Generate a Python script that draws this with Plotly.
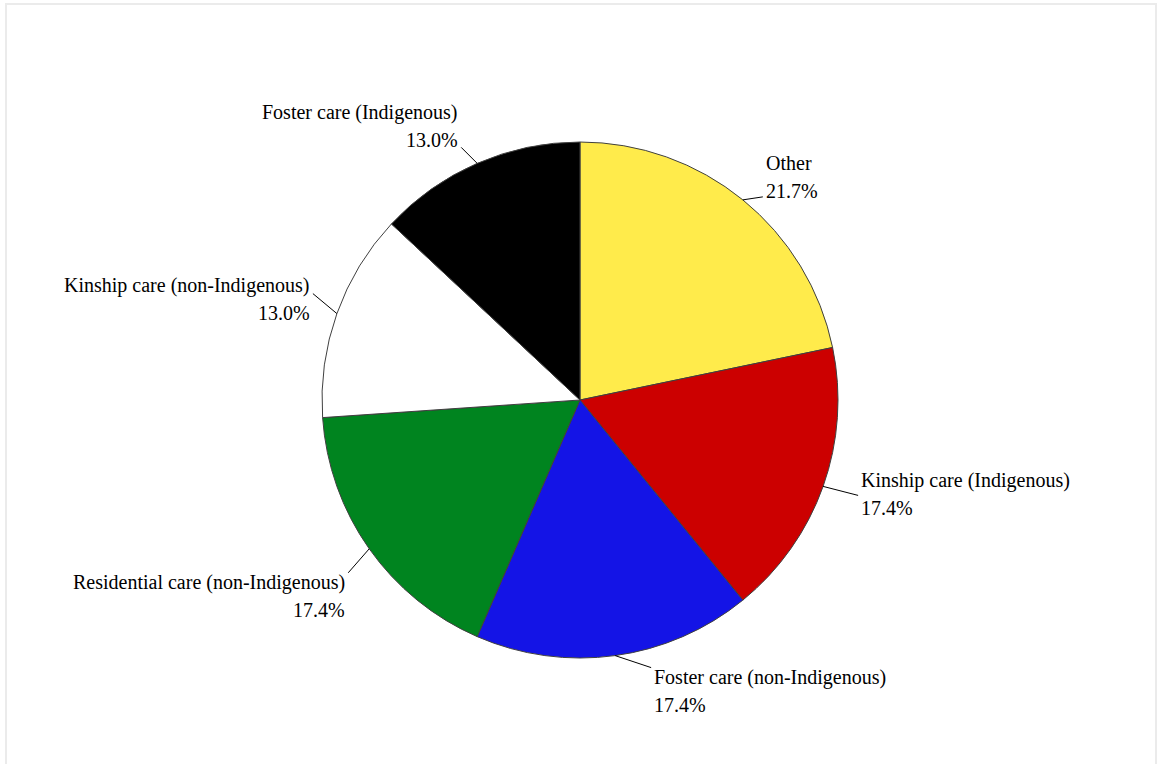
import math
import plotly.graph_objects as go

categories = ["Other", "Kinship care (Indigenous)", "Foster care (non-Indigenous)",
              "Residential care (non-Indigenous)", "Kinship care (non-Indigenous)",
              "Foster care (Indigenous)"]
values = [5, 4, 4, 4, 3, 3]
colors = ["#FFEB4B", "#CC0000", "#1414E6", "#00841F", "#FFFFFF", "#000000"]

W, H = 1157, 764
CX, CY, R = 580, 400, 258

# leader vector from slice edge (px) and label line offsets from leader end
leader = [(20, -3), (35, 9), (36, 12), (-21, 24), (-24, -20), (-16, -16)]
line_dy = [(-34, -6), (-15, 13), (10, 37), (10, 37), (-8, 19), (-35, -7)]
FONT = dict(family="Liberation Serif, Times New Roman, serif", size=20, color="#000000")

fig = go.Figure()
fig.add_trace(go.Pie(
    labels=categories, values=values, sort=False, direction="clockwise",
    rotation=0, textinfo="none", hoverinfo="label+percent",
    marker=dict(colors=colors, line=dict(color="#404040", width=1)),
    domain=dict(x=[(CX - R) / W, (CX + R) / W], y=[1 - (CY + R) / H, 1 - (CY - R) / H]),
    showlegend=False,
))

total = sum(values)
cum = 0
shapes = []
annotations = []
for i, v in enumerate(values):
    mid = (cum + v / 2) / total
    cum += v
    ang = 2 * math.pi * mid
    ex = CX + R * math.sin(ang)
    ey = CY - R * math.cos(ang)
    dx, dy = leader[i]
    lx, ly = ex + dx, ey + dy
    shapes.append(dict(type="line", xref="paper", yref="paper",
                       x0=ex / W, y0=1 - ey / H, x1=lx / W, y1=1 - ly / H,
                       line=dict(color="#000000", width=1)))
    right = dx > 0
    pct = f"{100 * v / total:.1f}%"
    for txt, ody in zip([categories[i], pct], line_dy[i]):
        annotations.append(dict(
            xref="paper", yref="paper", x=(lx + (1 if right else -1)) / W,
            y=1 - (ly + ody) / H, text=txt, showarrow=False,
            xanchor="left" if right else "right", yanchor="middle",
            font=FONT))

shapes.append(dict(type="rect", xref="paper", yref="paper",
                   x0=6 / W, y0=-0.01, x1=1156 / W, y1=1 - 4 / H,
                   line=dict(color="#EBEBEB", width=2)))

fig.update_layout(
    width=W, height=H, margin=dict(l=0, r=0, t=0, b=0),
    paper_bgcolor="#FFFFFF", plot_bgcolor="#FFFFFF",
    shapes=shapes, annotations=annotations,
)
fig.write_html("out.html", config={"displayModeBar": False},
               post_script="document.body.style.margin='0';document.body.style.overflow='hidden';")
